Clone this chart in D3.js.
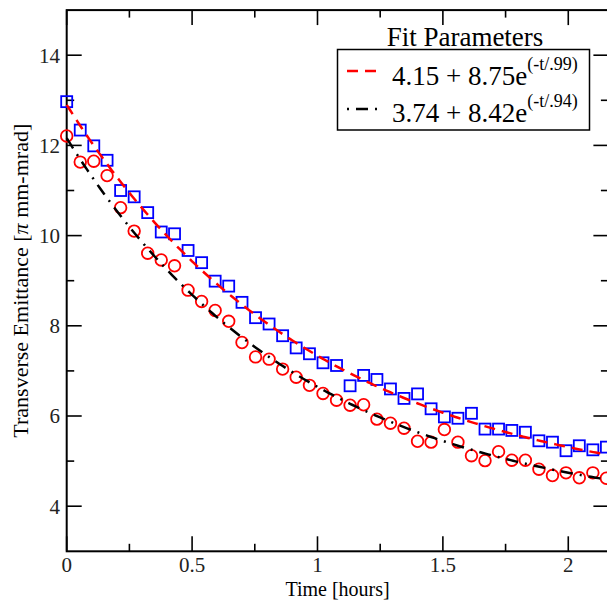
<!DOCTYPE html>
<html><head><meta charset="utf-8">
<script src="https://cdn.jsdelivr.net/npm/d3@7"></script>
<style>html,body{margin:0;padding:0;background:#fff;overflow:hidden}</style>
</head><body>
<svg id="c" width="607" height="600"></svg>
<script>
const times = [0,0.054,0.108,0.161,0.215,0.269,0.323,0.377,0.430,0.484,0.538,0.592,0.646,0.699,0.753,0.807,0.861,0.915,0.968,1.022,1.076,1.130,1.184,1.237,1.291,1.345,1.399,1.453,1.506,1.560,1.614,1.668,1.722,1.775,1.829,1.883,1.937,1.991,2.044,2.098,2.152];
const squaresVals = [12.97,12.34,11.99,11.67,11.00,10.86,10.51,10.08,10.04,9.67,9.40,8.99,8.88,8.52,8.18,8.04,7.78,7.51,7.38,7.18,7.12,6.67,6.90,6.81,6.60,6.39,6.49,6.16,5.98,5.95,6.06,5.71,5.71,5.68,5.64,5.45,5.42,5.23,5.34,5.25,5.31];
const circlesVals = [12.21,11.63,11.65,11.33,10.62,10.10,9.61,9.46,9.33,8.79,8.54,8.34,8.10,7.63,7.31,7.26,7.04,6.86,6.68,6.50,6.35,6.24,6.25,5.93,5.84,5.73,5.44,5.42,5.70,5.42,5.12,5.01,5.21,5.02,5.02,4.82,4.68,4.74,4.63,4.74,4.62];
// fit parameters: offset, amplitude, tau
const fitRed = [4.15, 8.75, 0.99];
const fitBlack = [3.74, 8.42, 0.94];
const fitLabels = ["4.15 + 8.75e", "3.74 + 8.42e"];
const fitSups = ["(-t/.99)", "(-t/.94)"];
const xTicks = [0, 0.5, 1, 1.5, 2];
const xTickLabels = ["0", "0.5", "1", "1.5", "2"];
const xMinor = [0.25, 0.75, 1.25, 1.75];
const yTicks = [4, 6, 8, 10, 12, 14];
const yMinor = [5, 7, 9, 11, 13];

const svg = d3.select("#c");
const FONT = "'Liberation Serif','Times New Roman',serif";
const L = 66.7, R = 608.4, T = 10.1, B = 551.3;
const x = d3.scaleLinear().domain([0, 2.16]).range([L, R]);
const y = d3.scaleLinear().domain([3, 15]).range([B, T]);

// ticks (inward on all sides)
const tk = svg.append("g").attr("stroke", "#000").attr("stroke-width", 1.6);
xTicks.forEach(v => {
  tk.append("line").attr("x1", x(v)).attr("x2", x(v)).attr("y1", B).attr("y2", B - 15);
  tk.append("line").attr("x1", x(v)).attr("x2", x(v)).attr("y1", T).attr("y2", T + 15);
});
xMinor.forEach(v => {
  tk.append("line").attr("x1", x(v)).attr("x2", x(v)).attr("y1", B).attr("y2", B - 7.5);
  tk.append("line").attr("x1", x(v)).attr("x2", x(v)).attr("y1", T).attr("y2", T + 7.5);
});
yTicks.forEach(v => {
  tk.append("line").attr("x1", L).attr("x2", L + 15).attr("y1", y(v)).attr("y2", y(v));
  tk.append("line").attr("x1", R).attr("x2", R - 15).attr("y1", y(v)).attr("y2", y(v));
});
yMinor.forEach(v => {
  tk.append("line").attr("x1", L).attr("x2", L + 7.5).attr("y1", y(v)).attr("y2", y(v));
  tk.append("line").attr("x1", R).attr("x2", R - 7.5).attr("y1", y(v)).attr("y2", y(v));
});

// frame
svg.append("rect").attr("x", L).attr("y", T).attr("width", R - L).attr("height", B - T)
  .attr("fill", "none").attr("stroke", "#000").attr("stroke-width", 2);

// tick labels
xTicks.forEach((v, i) => {
  svg.append("text").attr("x", x(v)).attr("y", 572).attr("text-anchor", "middle")
    .attr("font-family", FONT).attr("font-size", 21).attr("fill", "#222").text(xTickLabels[i]);
});
yTicks.forEach(v => {
  svg.append("text").attr("x", 60).attr("y", y(v)).attr("dy", "0.35em").attr("text-anchor", "end")
    .attr("font-family", FONT).attr("font-size", 21).attr("fill", "#222").text(v);
});

// axis titles
svg.append("text").attr("x", (L + R) / 2).attr("y", 595.5).attr("text-anchor", "middle")
  .attr("font-family", FONT).attr("font-size", 20).text("Time [hours]");
const yt = svg.append("text").attr("transform", `translate(28,${(T + B) / 2}) rotate(-90)`)
  .attr("text-anchor", "middle").attr("font-family", FONT).attr("font-size", 22);
yt.append("tspan").text("Transverse Emittance [");
yt.append("tspan").attr("font-style", "italic").text("π");
yt.append("tspan").text(" mm-mrad]");

// markers
const plot = svg.append("g");
plot.selectAll("rect.sq").data(squaresVals).join("rect").attr("class", "sq")
  .attr("x", (d, i) => x(times[i]) - 5.5).attr("y", d => y(d) - 5.5)
  .attr("width", 11).attr("height", 11)
  .attr("fill", "none").attr("stroke", "#0000ff").attr("stroke-width", 1.8);
plot.selectAll("circle.ci").data(circlesVals).join("circle").attr("class", "ci")
  .attr("cx", (d, i) => x(times[i])).attr("cy", d => y(d)).attr("r", 5.8)
  .attr("fill", "none").attr("stroke", "#ff0000").attr("stroke-width", 1.8);

// fit curves
const grid = d3.range(0, 2.1601, 0.01);
const fitLine = p => d3.line().x(t => x(t)).y(t => y(p[0] + p[1] * Math.exp(-t / p[2])))(grid);
plot.append("path").attr("d", fitLine(fitBlack)).attr("fill", "none").attr("stroke", "#000")
  .attr("stroke-width", 2.5).attr("stroke-dasharray", "12,7,2,7");
plot.append("path").attr("d", fitLine(fitRed)).attr("fill", "none").attr("stroke", "#ff0000")
  .attr("stroke-width", 2.5).attr("stroke-dasharray", "11,7");

// legend
const lg = svg.append("g");
lg.append("text").attr("x", 465).attr("y", 46).attr("text-anchor", "middle")
  .attr("font-family", FONT).attr("font-size", 27).text("Fit Parameters");
lg.append("rect").attr("x", 337.5).attr("y", 49.5).attr("width", 252).attr("height", 80.5)
  .attr("fill", "#fff").attr("stroke", "#000").attr("stroke-width", 1.5);
const rows = [
  {color: "#ff0000", dash: "11,7", ly: 71, by: 85},
  {color: "#000", dash: "2,7,12,7", ly: 109, by: 122}
];
rows.forEach((r, i) => {
  lg.append("line").attr("x1", 347).attr("x2", 377).attr("y1", r.ly).attr("y2", r.ly)
    .attr("stroke", r.color).attr("stroke-width", 2.5).attr("stroke-dasharray", r.dash);
  const t = lg.append("text").attr("x", 392).attr("y", r.by).attr("font-family", FONT).attr("font-size", 27);
  t.append("tspan").text(fitLabels[i]);
  t.append("tspan").attr("font-size", 18).attr("dy", -15).text(fitSups[i]);
});
</script>
</body></html>
